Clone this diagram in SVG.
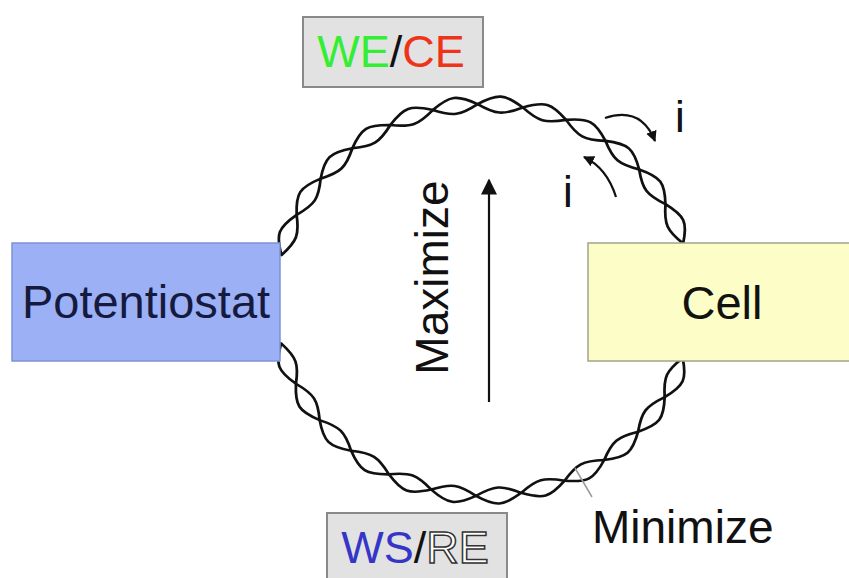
<svg xmlns="http://www.w3.org/2000/svg" width="849" height="578" viewBox="0 0 849 578">
<style>
.t{font-family:"Liberation Sans",Arial,sans-serif}
.wire{fill:none;stroke:#111;stroke-width:2.6;stroke-linejoin:round}
.lbl{fill:#e2e2e2;stroke:#8a8a8a;stroke-width:2}
.ann{fill:none;stroke:#111;stroke-width:2.2}
</style>
<defs>
<path id="lens" d="M194.84,-21.34 C207.05,-3.24 207.05,3.24 194.84,21.34 C185.72,3.24 185.72,-3.24 194.84,-21.34Z"/>
<marker id="ah" viewBox="0 0 10 10" refX="9" refY="5" markerWidth="11" markerHeight="11" markerUnits="userSpaceOnUse" orient="auto">
<path d="M0,0 L10,5 L0,10 Z" fill="#111"/>
</marker>
<marker id="ah2" viewBox="0 0 10 10" refX="9" refY="5" markerWidth="18" markerHeight="16" markerUnits="userSpaceOnUse" orient="auto">
<path d="M0,0 L10,5 L0,10 Z" fill="#111"/>
</marker>
</defs>
<rect width="849" height="578" fill="#fff"/>

<g id="connectors">
<g id="wire-top" class="wire" transform="translate(484,300) scale(1.0612,1)">
<use href="#lens" transform="rotate(-160.51)"/>
<use href="#lens" transform="rotate(-148.01)"/>
<use href="#lens" transform="rotate(-135.51)"/>
<use href="#lens" transform="rotate(-123.01)"/>
<use href="#lens" transform="rotate(-110.51)"/>
<use href="#lens" transform="rotate(-98.01)"/>
<use href="#lens" transform="rotate(-85.51)"/>
<use href="#lens" transform="rotate(-73.01)"/>
<use href="#lens" transform="rotate(-60.51)"/>
<use href="#lens" transform="rotate(-48.01)"/>
<use href="#lens" transform="rotate(-35.51)"/>
<use href="#lens" transform="rotate(-23.01)"/>
</g>
<g id="wire-bottom" class="wire" transform="translate(484,300) scale(1.0612,1)">
<use href="#lens" transform="rotate(23.45)"/>
<use href="#lens" transform="rotate(35.95)"/>
<use href="#lens" transform="rotate(48.45)"/>
<use href="#lens" transform="rotate(60.95)"/>
<use href="#lens" transform="rotate(73.45)"/>
<use href="#lens" transform="rotate(85.95)"/>
<use href="#lens" transform="rotate(98.45)"/>
<use href="#lens" transform="rotate(110.95)"/>
<use href="#lens" transform="rotate(123.45)"/>
<use href="#lens" transform="rotate(135.95)"/>
<use href="#lens" transform="rotate(148.45)"/>
<use href="#lens" transform="rotate(160.95)"/>
</g>
</g>

<g id="potentiostat">
<rect x="12" y="243" width="268" height="118" fill="#9cb0f5" stroke="#7d92d6" stroke-width="1.5"/>
<text class="t" x="146" y="318" font-size="47" text-anchor="middle" fill="#151a3e">Potentiostat</text>
</g>

<g id="cell">
<rect x="588" y="243" width="270" height="118" fill="#fdfdc8" stroke="#a3a38c" stroke-width="1.5"/>
<text class="t" x="722" y="319" font-size="47" text-anchor="middle" fill="#111">Cell</text>
</g>

<g id="we-ce">
<rect class="lbl" x="303" y="17" width="180" height="70"/>
<text class="t" x="391" y="67" font-size="45" text-anchor="middle"><tspan fill="#33ee33">WE</tspan><tspan fill="#111">/</tspan><tspan fill="#ee3318">CE</tspan></text>
</g>

<g id="ws-re">
<rect class="lbl" x="327" y="513" width="180" height="80"/>
<text class="t" x="415" y="563" font-size="45" text-anchor="middle"><tspan fill="#3535c8">WS</tspan><tspan fill="#111">/</tspan><tspan fill="#fff" stroke="#333" stroke-width="1.5">RE</tspan></text>
</g>

<g id="maximize">
<text class="t" transform="translate(448,277.5) rotate(-90)" font-size="46" text-anchor="middle" fill="#111">Maximize</text>
<line x1="489" y1="402" x2="489" y2="180" class="ann" stroke-width="3" marker-end="url(#ah2)"/>
</g>

<g id="minimize">
<line x1="575" y1="468" x2="592" y2="497" stroke="#9a9a9a" stroke-width="1.5"/>
<text class="t" x="592" y="543" font-size="46" fill="#111">Minimize</text>
</g>

<g id="current-out">
<path class="ann" d="M605,118 Q641,106 655,141" marker-end="url(#ah)"/>
<text class="t" x="680" y="132" font-size="44" text-anchor="middle" fill="#111">i</text>
</g>

<g id="current-in">
<path class="ann" d="M616,197 Q607,168 584,157" marker-end="url(#ah)"/>
<text class="t" x="568" y="207" font-size="44" text-anchor="middle" fill="#111">i</text>
</g>
</svg>
